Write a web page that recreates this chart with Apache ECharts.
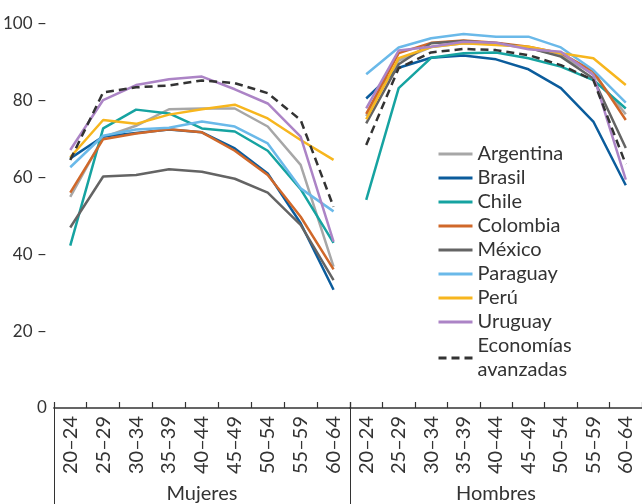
<!DOCTYPE html>
<html>
<head>
<meta charset="utf-8">
<script src="https://cdn.jsdelivr.net/npm/echarts@6/dist/echarts.min.js"></script>
<style>
  html, body { margin: 0; padding: 0; background: #fff; }
  #chart { width: 642px; height: 504px; }
</style>
</head>
<body>
<div id="chart"></div>
<script>
// age groups and panels
var ages = ['20–24', '25–29', '30–34', '35–39', '40–44', '45–49', '50–54', '55–59', '60–64'];
var panels = ['Mujeres', 'Hombres'];
var yTicks = [0, 20, 40, 60, 80, 100];

// women
var argentinaM = [55.0, 70.5, 73.5, 77.8, 78.0, 78.0, 73.3, 63.3, 36.8];
var brasilM    = [65.0, 70.7, 71.6, 72.5, 71.8, 67.6, 61.1, 48.1, 30.8];
var chileM     = [42.3, 72.8, 77.7, 76.7, 72.8, 72.0, 67.0, 57.0, 43.0];
var colombiaM  = [56.1, 70.0, 71.5, 72.6, 71.8, 67.0, 60.7, 49.8, 36.1];
var mexicoM    = [47.0, 60.3, 60.7, 62.2, 61.5, 59.7, 56.1, 47.7, 33.3];
var paraguayM  = [62.7, 70.9, 72.5, 73.0, 74.6, 73.3, 68.9, 57.2, 51.2];
var peruM      = [65.3, 75.0, 74.0, 76.4, 77.8, 79.0, 75.4, 69.8, 64.6];
var uruguayM   = [67.2, 80.2, 84.1, 85.6, 86.3, 83.0, 79.3, 70.7, 43.3];
var avanzadasM = [64.6, 82.2, 83.5, 84.0, 85.3, 84.6, 82.0, 75.0, 52.4];

// men
var argentinaH = [76.0, 90.5, 94.0, 95.0, 94.8, 93.8, 91.8, 87.0, 76.5];
var brasilH    = [80.6, 88.6, 91.2, 91.8, 90.8, 88.2, 83.3, 74.6, 58.0];
var chileH     = [54.2, 83.3, 91.2, 92.4, 92.6, 91.1, 88.9, 85.4, 78.0];
var colombiaH  = [76.6, 92.4, 95.1, 95.7, 95.1, 94.1, 92.4, 87.7, 75.0];
var mexicoH    = [74.1, 89.5, 95.0, 95.6, 95.0, 93.8, 91.5, 85.8, 67.7];
var paraguayH  = [86.9, 93.9, 96.3, 97.4, 96.7, 96.7, 93.9, 88.0, 79.5];
var peruH      = [75.2, 91.1, 94.0, 95.0, 94.5, 94.1, 92.4, 91.1, 84.1];
var uruguayH   = [78.0, 93.1, 94.1, 95.4, 95.1, 93.4, 92.8, 86.7, 59.5];
var avanzadasH = [68.5, 88.5, 92.6, 93.5, 93.2, 91.9, 89.3, 85.4, 63.5];

var names = ['Argentina', 'Brasil', 'Chile', 'Colombia', 'México', 'Paraguay', 'Perú', 'Uruguay', 'Economías avanzadas'];
var colors = ['#a7a7a7', '#0b5c9c', '#16a3a1', '#d0682a', '#646464', '#6ab9e9', '#f7b61e', '#ac84c6', '#333333'];
var womenData = [argentinaM, brasilM, chileM, colombiaM, mexicoM, paraguayM, peruM, uruguayM, avanzadasM];
var menData = [argentinaH, brasilH, chileH, colombiaH, mexicoH, paraguayH, peruH, uruguayH, avanzadasH];

var font = 'Lato';
var txt = '#333333';

var series = [];
for (var i = 0; i < names.length; i++) {
    var dashed = (i == names.length - 1);
    [womenData[i], menData[i]].forEach(function (d, g) {
        series.push({
            name: names[i],
            type: 'line',
            xAxisIndex: g * 2,
            yAxisIndex: g,
            data: d,
            symbol: 'none',
            showSymbol: false,
            color: colors[i],
            lineStyle: {
                width: 2.5,
                color: colors[i],
                type: dashed ? [8, 5] : 'solid'
            },
            z: dashed ? 5 : 2
        });
    });
}

function catAxis(grid) {
    return {
        type: 'category',
        gridIndex: grid,
        data: ages,
        boundaryGap: true,
        axisLine: { show: true, lineStyle: { color: txt, width: 1.5 } },
        axisTick: { show: true, inside: true, length: 6, lineStyle: { color: txt, width: 1.2 } },
        axisLabel: {
            rotate: 90, margin: 8, interval: 0,
            fontFamily: font, fontSize: 20, color: txt
        }
    };
}
function groupAxis(grid, label) {
    return {
        type: 'category',
        gridIndex: grid,
        data: [label],
        position: 'bottom',
        boundaryGap: true,
        axisLine: { show: false },
        axisTick: { show: true, length: 96, lineStyle: { color: txt, width: 1 } },
        axisLabel: { margin: 76, fontFamily: font, fontSize: 20, color: txt }
    };
}
function valAxis(grid, showLabels) {
    return {
        type: 'value',
        gridIndex: grid,
        min: yTicks[0],
        max: yTicks[yTicks.length - 1],
        interval: 20,
        axisLine: { show: false },
        axisTick: { show: false },
        splitLine: { show: false },
        axisLabel: {
            show: showLabels,
            margin: 7,
            fontFamily: font, fontSize: 17, color: txt,
            formatter: function (v) { return v === 0 ? '0' : v + ' –'; }
        }
    };
}

var chart = echarts.init(document.getElementById('chart'));
var option = {
    backgroundColor: '#ffffff',
    animation: false,
    grid: [
        { left: 49, width: 301, top: 24, bottom: 96 },
        { left: 350, width: 302, top: 24, bottom: 96 }
    ],
    xAxis: [catAxis(0), groupAxis(0, panels[0]), catAxis(1), groupAxis(1, panels[1])],
    yAxis: [valAxis(0, true), valAxis(1, false)],
    legend: {
        orient: 'vertical',
        left: 432,
        top: 137,
        itemWidth: 34,
        itemHeight: 14,
        itemGap: 0,
        data: names,
        itemStyle: { opacity: 0 },
        lineStyle: { width: 3 },
        textStyle: { fontFamily: font, fontSize: 20, color: txt, lineHeight: 24 },
        formatter: function (n) { return n.replace('Economías ', 'Economías\n'); }
    },
    series: series
};
chart.setOption(option);
</script>
</body>
</html>
